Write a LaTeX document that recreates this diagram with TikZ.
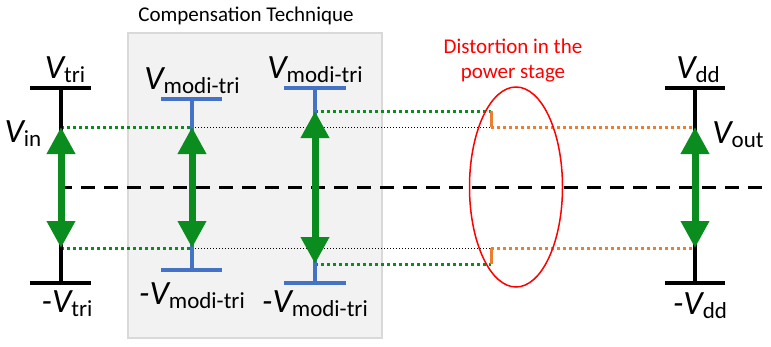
\documentclass[tikz,border=0pt]{standalone}
\usepackage{fontspec}
\setmainfont{Carlito}
\usetikzlibrary{arrows.meta,shapes.geometric}
\definecolor{gbox}{HTML}{F2F2F2}
\definecolor{gboxb}{HTML}{D9D9D9}
\definecolor{bblue}{HTML}{4472C4}
\definecolor{agreen}{HTML}{0B8C1E}
\definecolor{aorange}{HTML}{ED7D31}
\newcommand{\volt}[2]{{\fontsize{34}{34}\selectfont\itshape #1V}\raisebox{-4pt}{\fontsize{23}{23}\selectfont #2}}
\begin{document}
\begin{tikzpicture}[x=1pt,y=-1pt,
  barline/.style={line width=4pt},
  garrow/.style={agreen, line width=7pt, {Triangle[length=27pt,width=27pt]}-{Triangle[length=27pt,width=27pt]}},
  gdot/.style={agreen, line width=3pt, dash pattern=on 3pt off 3pt},
  odot/.style={aorange, line width=3pt, dash pattern=on 3pt off 3pt},
  kdot/.style={black, line width=0.9pt, dash pattern=on 1pt off 2pt},
  lab/.style={inner sep=0pt, anchor=center},
  ttl/.style={inner sep=0pt, font=\fontsize{21}{25}\selectfont, align=center}]
\useasboundingbox (0,0) rectangle (771,346);
% compensation box
\draw[fill=gbox, draw=gboxb, line width=1.2pt] (128,33) rectangle (382,338);
\node[ttl] (comp) at (246,16) {Compensation Technique};
% coordinates
\coordinate (Lt) at (61,88);  \coordinate (Lb) at (61,283);
\coordinate (La) at (61,127); \coordinate (Lc) at (61,248);
\coordinate (Bt) at (192,99); \coordinate (Bb) at (192,270);
\coordinate (Ba) at (192,127); \coordinate (Bc) at (192,248);
\coordinate (Ct) at (315,88); \coordinate (Cb) at (315,283);
\coordinate (Ca) at (315,111); \coordinate (Cc) at (315,264);
\coordinate (Rt) at (695,88); \coordinate (Rb) at (695,283);
\coordinate (Ra) at (695,127); \coordinate (Rc) at (695,248);
\coordinate (Oa1) at (491,111); \coordinate (Oa2) at (491,127);
\coordinate (Oc1) at (491,264); \coordinate (Oc2) at (491,248);
\coordinate (Ms) at (58,187); \coordinate (Me) at (771,187);
% midline
\draw[line width=3pt, dash pattern=on 14pt off 9pt] (Ms) -- (Me);
% dotted guide lines
\draw[kdot] (Ba) -- (Oa2);
\draw[kdot] (Bc) -- (Oc2);
\draw[gdot] (La) -- (Ba);
\draw[gdot] (Lc) -- (Bc);
\draw[gdot] (Ca) -- (Oa1);
\draw[gdot] (Cc) -- (Oc1);
\draw[odot] (Oa2) -- (Ra);
\draw[odot] (Oc2) -- (Rc);
\draw[aorange, line width=3pt] (Oa1) -- (Oa2);
\draw[aorange, line width=3pt] (Oc1) -- (Oc2);
% bars
\draw[barline] (Lt) -- (Lb);
\draw[barline] ([xshift=-31pt]Lt) -- ([xshift=30pt]Lt);
\draw[barline] ([xshift=-31pt]Lb) -- ([xshift=30pt]Lb);
\draw[barline, bblue] (Bt) -- (Bb);
\draw[barline, bblue] ([xshift=-31pt]Bt) -- ([xshift=30pt]Bt);
\draw[barline, bblue] ([xshift=-31pt]Bb) -- ([xshift=30pt]Bb);
\draw[barline, bblue] (Ct) -- (Cb);
\draw[barline, bblue] ([xshift=-31pt]Ct) -- ([xshift=31pt]Ct);
\draw[barline, bblue] ([xshift=-31pt]Cb) -- ([xshift=31pt]Cb);
\draw[barline] (Rt) -- (Rb);
\draw[barline] ([xshift=-30pt]Rt) -- ([xshift=30pt]Rt);
\draw[barline] ([xshift=-30pt]Rb) -- ([xshift=30pt]Rb);
% arrows
\draw[garrow] (La) -- (Lc);
\draw[garrow] (Ba) -- (Bc);
\draw[garrow] (Ca) -- (Cc);
\draw[garrow] (Ra) -- (Rc);
% distortion ellipse
\node[draw=red, line width=1.5pt, ellipse, minimum width=93pt, minimum height=200pt, inner sep=0pt] (ell) at (516,187) {};
\node[ttl, text=red] (dist) at (513,61) {Distortion in the\\power stage};
% labels
\node[lab] (vtri) at (65,70) {\volt{}{tri}};
\node[lab] (mvtri) at (67,304) {\volt{-}{tri}};
\node[lab] (vin) at (23,134) {\volt{}{in}};
\node[lab] (vm1) at (192,81) {\volt{}{modi-tri}};
\node[lab] (mvm1) at (192,296) {\volt{-}{modi-tri}};
\node[lab] (vm2) at (315,70) {\volt{}{modi-tri}};
\node[lab] (mvm2) at (315,304) {\volt{-}{modi-tri}};
\node[lab] (vdd) at (698,70) {\volt{}{dd}};
\node[lab] (vout) at (738,135) {\volt{}{out}};
\node[lab] (mvdd) at (700,306) {\volt{-}{dd}};
\end{tikzpicture}
\end{document}
